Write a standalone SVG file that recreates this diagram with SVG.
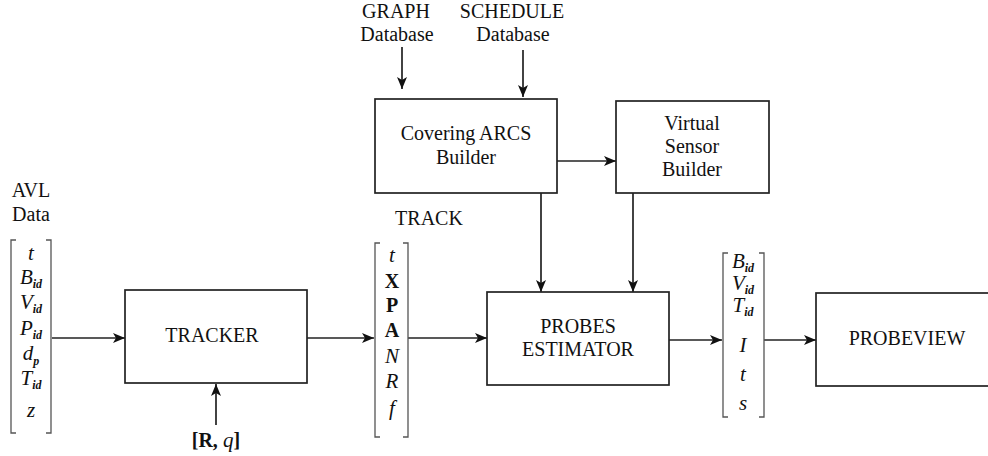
<svg xmlns="http://www.w3.org/2000/svg" width="988" height="456" viewBox="0 0 988 456">
<style>
text{font-family:"Liberation Serif","Times New Roman",serif;font-size:20px;fill:#111;text-anchor:middle}
.m{font-style:italic;font-size:21px}
.b{font-weight:bold;font-size:20px}
.s{font-size:12px;font-style:italic;font-weight:bold}
.box{fill:#fff;stroke:#222;stroke-width:1.7}
.ln{fill:none;stroke:#222;stroke-width:1.7}
.br{fill:none;stroke:#555;stroke-width:1.3}
</style>
<defs>
<marker id="ah" viewBox="0 0 12 10" refX="12" refY="5" markerWidth="12" markerHeight="10" markerUnits="userSpaceOnUse" orient="auto">
<path d="M0,0 L12,5 L0,10 L3,5 Z" fill="#111"/>
</marker>
</defs>

<g id="labels">
<text x="396" y="18">GRAPH</text>
<text x="397" y="41">Database</text>
<text x="512" y="18">SCHEDULE</text>
<text x="513" y="41">Database</text>
<text x="31" y="197">AVL</text>
<text x="31" y="221">Data</text>
<text x="429" y="225">TRACK</text>
</g>

<g id="connectors">
<line class="ln" x1="402" y1="47" x2="402" y2="89" marker-end="url(#ah)"/>
<line class="ln" x1="523" y1="50" x2="523" y2="97" marker-end="url(#ah)"/>
<line class="ln" x1="557" y1="161" x2="616" y2="161" marker-end="url(#ah)"/>
<line class="ln" x1="541" y1="193" x2="541" y2="292" marker-end="url(#ah)"/>
<line class="ln" x1="633" y1="193" x2="633" y2="292" marker-end="url(#ah)"/>
<line class="ln" x1="52" y1="338" x2="125" y2="338" marker-end="url(#ah)"/>
<line class="ln" x1="307" y1="338" x2="374" y2="338" marker-end="url(#ah)"/>
<line class="ln" x1="408" y1="338" x2="487" y2="338" marker-end="url(#ah)"/>
<line class="ln" x1="669" y1="340" x2="722" y2="340" marker-end="url(#ah)"/>
<line class="ln" x1="764" y1="340" x2="816" y2="340" marker-end="url(#ah)"/>
<line class="ln" x1="216" y1="425" x2="216" y2="384" marker-end="url(#ah)"/>
</g>

<g id="covering">
<rect class="box" x="375" y="99" width="182" height="94"/>
<text x="466" y="140">Covering ARCS</text>
<text x="466" y="164">Builder</text>
</g>

<g id="virtual">
<rect class="box" x="616" y="101" width="153" height="92"/>
<text x="692" y="130">Virtual</text>
<text x="692" y="153">Sensor</text>
<text x="692" y="176">Builder</text>
</g>

<g id="tracker">
<rect class="box" x="125" y="290" width="182" height="93"/>
<text x="212" y="342">TRACKER</text>
</g>

<g id="probes">
<rect class="box" x="487" y="292" width="182" height="93"/>
<text x="578" y="333">PROBES</text>
<text x="578" y="356">ESTIMATOR</text>
</g>

<g id="probeview">
<rect class="box" x="816" y="293" width="190" height="93"/>
<text x="907" y="345">PROBEVIEW</text>
</g>

<g id="avl-vector">
<path class="br" d="M16,240 H11 V433 H16 M46,240 H51 V433 H46"/>
<text class="m" x="31" y="260">t</text>
<text x="31" y="284"><tspan class="m">B</tspan><tspan class="s" dy="4">id</tspan></text>
<text x="31" y="309"><tspan class="m">V</tspan><tspan class="s" dy="4">id</tspan></text>
<text x="31" y="335"><tspan class="m">P</tspan><tspan class="s" dy="4">id</tspan></text>
<text x="31" y="360"><tspan class="m">d</tspan><tspan class="s" dy="5">p</tspan></text>
<text x="31" y="385"><tspan class="m">T</tspan><tspan class="s" dy="4">id</tspan></text>
<text class="m" x="31" y="417">z</text>
</g>

<g id="track-vector">
<path class="br" d="M380,243 H375 V437 H380 M403,243 H408 V437 H403"/>
<text class="m" x="392" y="262">t</text>
<text class="b" x="392" y="288">X</text>
<text class="b" x="392" y="312">P</text>
<text class="b" x="392" y="337">A</text>
<text class="m" x="392" y="363">N</text>
<text class="m" x="392" y="388">R</text>
<text class="m" x="392" y="415">f</text>
</g>

<g id="output-vector">
<path class="br" d="M728,253 H723 V417 H728 M759,253 H764 V417 H759"/>
<text x="743" y="268"><tspan class="m">B</tspan><tspan class="s" dy="4">id</tspan></text>
<text x="743" y="290"><tspan class="m">V</tspan><tspan class="s" dy="4">id</tspan></text>
<text x="743" y="312"><tspan class="m">T</tspan><tspan class="s" dy="4">id</tspan></text>
<text class="m" x="743" y="352">I</text>
<text class="m" x="743" y="381">t</text>
<text class="m" x="743" y="410">s</text>
</g>

<g id="rq">
<text x="216" y="447"><tspan class="b">[R,</tspan><tspan class="m"> q</tspan><tspan class="b">]</tspan></text>
</g>
</svg>
